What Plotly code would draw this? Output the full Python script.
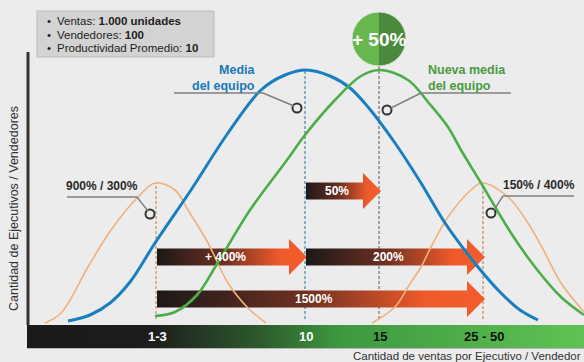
import plotly.graph_objects as go

FONT = "Liberation Sans, Arial, sans-serif"
BG = "#ececec"

# ---- data (x = position along the sales axis, y = height above baseline) ----
tick_labels = ["1-3", "10", "15", "25 - 50"]
tick_pos = [156, 305, 379, 483]
tick_text_color = ["white", "white", "#111111", "#111111"]

blue_x = [68, 90, 110, 130, 155, 191, 228, 261, 285, 306, 330, 350, 368, 395, 421, 445, 478, 500, 520, 538]
blue_y = [4, 10, 22, 43, 82, 135, 192, 235, 250, 255, 249, 237, 218, 182, 142, 102, 58, 33, 15, 5]

green_x = [155, 175, 197, 217, 250, 287, 305, 335, 361, 380, 408, 428, 448, 461, 481, 511, 535, 561, 584]
green_y = [9, 13, 30, 61, 115, 165, 190, 225, 249, 255, 245, 223, 198, 175, 142, 92, 58, 28, 10]

low_x = [45, 61, 88, 111, 138, 155, 175, 188, 208, 228, 248, 266]
low_y = [2, 12, 58, 95, 128, 142, 135, 115, 82, 42, 17, 2]

high_x = [372, 395, 408, 421, 431, 448, 471, 482, 508, 528, 545, 561, 584]
high_y = [2, 18, 38, 58, 78, 108, 135, 142, 128, 102, 72, 42, 13]

# arrows between categories
arrow_from = [1, 0, 1, 0]
arrow_to = [2, 1, 3, 3]
arrow_text = ["50%", "+ 400%", "200%", "1500%"]
arrow_level = [134, 68, 68, 26]

info_lines = ["Ventas: <b>1.000 unidades</b>", "Vendedores: <b>100</b>", "Productividad Promedio: <b>10</b>"]
x_title = "Cantidad de ventas por Ejecutivo / Vendedor"
y_title = "Cantidad de Ejecutivos / Vendedores"

fig = go.Figure()

# ---- bottom gradient bar ----
fig.add_trace(go.Scatter(
    x=[27, 584, 584, 27, 27], y=[0, 0, -23, -23, 0], mode="lines", fill="toself",
    line=dict(width=0), hoverinfo="skip", showlegend=False,
    fillgradient=dict(type="horizontal", colorscale=[
        [0, "#1b1a1a"], [0.22, "#1d1c1b"], [0.42, "#2d5a2c"], [0.56, "#3e9840"], [1, "#5ec353"]])))

# ---- gradient arrows ----
BH, HH, HL = 8.5, 18, 18
for f, t, txt_, lv in zip(arrow_from, arrow_to, arrow_text, arrow_level):
    x0 = tick_pos[f] + 1
    x1 = tick_pos[t] + 2
    hx = x1 - HL
    xs = [x0, hx, hx, x1, hx, hx, x0, x0]
    ys = [lv - BH, lv - BH, lv - HH, lv, lv + HH, lv + BH, lv + BH, lv - BH]
    fig.add_trace(go.Scatter(
        x=xs, y=ys, mode="lines", fill="toself", line=dict(width=0),
        hoverinfo="skip", showlegend=False,
        fillgradient=dict(type="horizontal", colorscale=[
            [0, "#1c1818"], [0.45, "#6e3121"], [0.82, "#ef5a2b"], [1, "#f35d2d"]])))
    fig.add_annotation(x=(x0 + hx) / 2 + 2, y=lv, text=f"<b>{txt_}</b>", showarrow=False,
                       font=dict(family=FONT, size=12, color="white"))

# ---- curves ----
fig.add_trace(go.Scatter(x=low_x, y=low_y, mode="lines", line=dict(color="#f0b07c", width=1.6, shape="spline"),
                         hoverinfo="skip", showlegend=False))
fig.add_trace(go.Scatter(x=high_x, y=high_y, mode="lines", line=dict(color="#f0b07c", width=1.6, shape="spline"),
                         hoverinfo="skip", showlegend=False))
fig.add_trace(go.Scatter(x=blue_x, y=blue_y, mode="lines", line=dict(color="#1a7fc1", width=3, shape="spline"),
                         hoverinfo="skip", showlegend=False))
fig.add_trace(go.Scatter(x=green_x, y=green_y, mode="lines", line=dict(color="#4cae48", width=2.6, shape="spline"),
                         hoverinfo="skip", showlegend=False))

# ---- dashed guides at the categories ----
guide_top = [142, 255, 259, 142]
guide_color = ["#c9976f", "#5b8aa6", "#7a7a7a", "#c38d6c"]
shapes = []
for xp, top, col in zip(tick_pos, guide_top, guide_color):
    shapes.append(dict(type="line", x0=xp, x1=xp, y0=6, y1=top, layer="below",
                       line=dict(color=col, width=1.3, dash="3px,2px")))

# axis line and bar bottom edge
shapes.append(dict(type="line", x0=28, x1=28, y0=0, y1=273, line=dict(color="#333333", width=3)))
shapes.append(dict(type="line", x0=27, x1=584, y0=-23.5, y1=-23.5, line=dict(color="#b5b5b5", width=1)))

# info box
shapes.append(dict(type="rect", x0=37, x1=214, y0=268, y1=314, fillcolor="#d3d3d3",
                   line=dict(color="#bcbcbc", width=1), layer="above"))

# +50% circle (two halves)
cx, cy, r = 379, 286, 27
k = 0.5523 * r
left = (f"M {cx},{cy + r} C {cx - k},{cy + r} {cx - r},{cy + k} {cx - r},{cy} "
        f"C {cx - r},{cy - k} {cx - k},{cy - r} {cx},{cy - r} Z")
right = (f"M {cx},{cy + r} C {cx + k},{cy + r} {cx + r},{cy + k} {cx + r},{cy} "
         f"C {cx + r},{cy - k} {cx + k},{cy - r} {cx},{cy - r} Z")
shapes.append(dict(type="path", path=left, fillcolor="#68b64e", line=dict(width=0), layer="above"))
shapes.append(dict(type="path", path=right, fillcolor="#4b8a3e", line=dict(width=0), layer="above"))
shapes.append(dict(type="circle", x0=cx - r, x1=cx + r, y0=cy - r, y1=cy + r,
                   line=dict(color="#d8e6d2", width=1), layer="above"))

# callout underlines and leaders
lead = "#808080"
callout_lines = [
    ((174, 232), (263, 232)), ((263, 232), (294, 219)),
    ((421, 232), (511, 232)), ((421, 232), (391, 217)),
    ((67, 128), (137, 128)), ((137, 128), (148, 114)),
    ((503, 129), (574, 129)), ((503, 129), (494, 115)),
]
for (ax_, ay_), (bx_, by_) in callout_lines:
    shapes.append(dict(type="line", x0=ax_, y0=ay_, x1=bx_, y1=by_, line=dict(color=lead, width=1.4)))

fig.update_layout(shapes=shapes)

# callout circles
fig.add_trace(go.Scatter(x=[297, 387, 150, 491], y=[217, 215, 111, 112], mode="markers",
                         marker=dict(symbol="circle", size=9, color=BG, line=dict(color="#333333", width=2)),
                         hoverinfo="skip", showlegend=False))

# ---- texts ----
def txt(x, y, s, size=11, color="#222222", xanchor="center", bold=False, **kw):
    if bold:
        s = f"<b>{s}</b>"
    fig.add_annotation(x=x, y=y, text=s, showarrow=False, xanchor=xanchor, yanchor="middle",
                       font=dict(family=FONT, size=size, color=color), **kw)

for i, line in enumerate(info_lines):
    yy = 304 - i * 13.5
    txt(45, yy, "•", size=11.5, xanchor="left")
    txt(55, yy, line, size=11.5, xanchor="left")

txt(258, 247.5, "Media<br>del equipo", size=12.5, color="#1a79b6", xanchor="right", bold=True, align="right")
txt(426, 247.5, "Nueva media<br>del equipo", size=12.5, color="#4a9a3c", xanchor="left", bold=True, align="left")
txt(102, 139, "900% / 300%", size=12, color="#2a2a2a", bold=True)
txt(539, 140, "150% / 400%", size=12, color="#2a2a2a", bold=True)
txt(cx, cy, "+ 50%", size=19, color="white", bold=True)

for xp, lab, col in zip(tick_pos, tick_labels, tick_text_color):
    txt(xp + 1, -11.5, lab, size=13, color=col, bold=True)

txt(583, -31, x_title, size=11.5, color="#333333", xanchor="right")
txt(14, 116, y_title.replace(" ", "\u00a0"), size=12.5, color="#333333", textangle=-90)

fig.update_layout(
    width=584, height=362, margin=dict(l=0, r=0, t=0, b=0),
    paper_bgcolor=BG, plot_bgcolor=BG,
    xaxis=dict(range=[0, 584], visible=False, fixedrange=True),
    yaxis=dict(range=[-37, 325], visible=False, fixedrange=True),
    showlegend=False,
)

fig.write_html("out.html")
